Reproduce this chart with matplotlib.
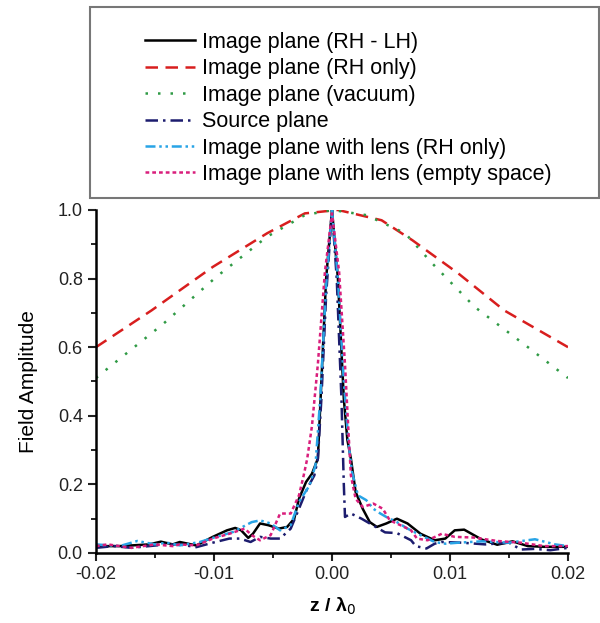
import matplotlib.pyplot as plt
from matplotlib.patches import Rectangle
from matplotlib.ticker import MultipleLocator

plt.rcParams['font.family'] = ['Liberation Sans', 'DejaVu Sans']

# broad curves (no lens)
z_rh = [-0.02, -0.0153, -0.0101, -0.0055, -0.0023, 0.0005, 0.0042, 0.0068, 0.0107, 0.0146, 0.02]
a_rh = [0.60, 0.707, 0.834, 0.932, 0.99, 1.0, 0.97, 0.912, 0.815, 0.707, 0.60]

z_vac = [-0.02, -0.0189, -0.0143, -0.0098, -0.0055, -0.0023, 0.0, 0.0029, 0.0062, 0.0085, 0.0121, 0.0166, 0.02]
a_vac = [0.51, 0.541, 0.668, 0.805, 0.922, 0.985, 1.0, 0.985, 0.932, 0.844, 0.717, 0.60, 0.51]

# narrow curves
z_rhlh = [-0.02, -0.018, -0.0155, -0.0145, -0.0135, -0.0129, -0.0115, -0.0101, -0.0089, -0.0082,
          -0.0077, -0.0071, -0.0067, -0.0061, -0.0054, -0.0045, -0.0038, -0.0032, -0.0028, -0.0022,
          -0.0017, -0.0012, -0.0009, -0.0005, 0.0, 0.0005, 0.001, 0.0013, 0.0016, 0.002, 0.0026,
          0.0032, 0.0038, 0.0046, 0.0055, 0.0064, 0.0075, 0.0087, 0.0096, 0.0104, 0.0112, 0.0127,
          0.014, 0.0153, 0.0166, 0.018, 0.02]
a_rhlh = [0.02, 0.02, 0.025, 0.033, 0.025, 0.032, 0.022, 0.047, 0.066, 0.073,
          0.066, 0.044, 0.056, 0.086, 0.081, 0.071, 0.076, 0.10, 0.158, 0.207,
          0.231, 0.275, 0.5, 0.8, 1.0, 0.8, 0.45, 0.33, 0.275, 0.178, 0.129,
          0.09, 0.076, 0.086, 0.10, 0.086, 0.056, 0.037, 0.042, 0.066, 0.068, 0.039,
          0.024, 0.034, 0.02, 0.018, 0.018]

z_src = [-0.02, -0.0185, -0.017, -0.0155, -0.014, -0.0129, -0.0115, -0.0101, -0.0087, -0.0078,
         -0.0069, -0.0061, -0.0052, -0.0044, -0.0035, -0.0028, -0.0021, -0.0015, -0.0012, -0.0009,
         -0.0005, 0.0, 0.0004, 0.0008, 0.001, 0.0011, 0.0016, 0.0025, 0.0035, 0.0045, 0.0055,
         0.0067, 0.0071, 0.008, 0.0087, 0.0093, 0.011, 0.013, 0.015, 0.016, 0.0172, 0.0185, 0.02]
a_src = [0.015, 0.02, 0.015, 0.02, 0.025, 0.025, 0.017, 0.03, 0.042, 0.042,
         0.032, 0.047, 0.042, 0.042, 0.071, 0.129, 0.188, 0.226, 0.275, 0.45,
         0.75, 1.0, 0.8, 0.45, 0.2, 0.105, 0.115, 0.10, 0.08, 0.06, 0.058,
         0.037, 0.02, 0.013, 0.027, 0.032, 0.03, 0.025, 0.03, 0.01, 0.012, 0.008, 0.015]

z_lens_rh = [-0.02, -0.018, -0.0165, -0.015, -0.014, -0.0129, -0.0112, -0.0098, -0.0084, -0.0068,
             -0.0061, -0.0052, -0.0044, -0.0035, -0.0028, -0.0019, -0.0014, -0.001, -0.0005, 0.0,
             0.0005, 0.001, 0.0014, 0.0017, 0.0022, 0.0029, 0.0035, 0.0041, 0.0046, 0.0055, 0.0064,
             0.0075, 0.0087, 0.0096, 0.0107, 0.0127, 0.015, 0.0172, 0.0189, 0.02]
a_lens_rh = [0.025, 0.02, 0.035, 0.025, 0.03, 0.022, 0.032, 0.047, 0.061, 0.09,
             0.095, 0.086, 0.066, 0.081, 0.149, 0.197, 0.256, 0.45, 0.78, 1.0,
             0.8, 0.5, 0.32, 0.236, 0.168, 0.154, 0.129, 0.115, 0.105, 0.09, 0.071,
             0.052, 0.032, 0.027, 0.03, 0.034, 0.03, 0.04, 0.025, 0.02]

z_lens_es = [-0.02, -0.019, -0.017, -0.015, -0.0135, -0.0129, -0.0115, -0.0101, -0.0087, -0.0074,
             -0.0068, -0.0061, -0.0052, -0.0044, -0.0035, -0.0028, -0.0024, -0.0021, -0.0017, -0.0012,
             -0.0006, 0.0, 0.0006, 0.0011, 0.0014, 0.0016, 0.002, 0.0026, 0.0035, 0.0043, 0.0049,
             0.0058, 0.0067, 0.0072, 0.0081, 0.0093, 0.0104, 0.012, 0.014, 0.016, 0.018, 0.02]
a_lens_es = [0.02, 0.025, 0.015, 0.025, 0.02, 0.025, 0.022, 0.042, 0.056, 0.071,
             0.052, 0.037, 0.052, 0.115, 0.115, 0.168, 0.226, 0.275, 0.37, 0.55,
             0.82, 0.99, 0.82, 0.55, 0.35, 0.226, 0.158, 0.134, 0.144, 0.129, 0.095,
             0.081, 0.066, 0.042, 0.037, 0.056, 0.047, 0.045, 0.035, 0.03, 0.02, 0.02]

labels = ['Image plane (RH - LH)', 'Image plane (RH only)', 'Image plane (vacuum)',
          'Source plane', 'Image plane with lens (RH only)', 'Image plane with lens (empty space)']

fig = plt.figure(figsize=(6.0, 6.23), dpi=100)
ax = fig.add_axes([0.16, 0.1124, 0.7867, 0.5506])

lw = 1.8
h1, = ax.plot(z_rhlh, a_rhlh, color='black', lw=lw, ls='-')
h2, = ax.plot(z_rh, a_rh, color='#d81e1e', lw=lw, ls=(0, (5, 3)))
h3, = ax.plot(z_vac, a_vac, color='#2f9a45', lw=lw, ls=(0, (1, 4)))
h4, = ax.plot(z_src, a_src, color='#1c1c6e', lw=lw, ls=(0, (5, 2, 1, 2)))
h5, = ax.plot(z_lens_rh, a_lens_rh, color='#28a4e6', lw=lw, ls=(0, (4, 1.5, 1, 1.5, 1, 1.5)))
h6, = ax.plot(z_lens_es, a_lens_es, color='#d91e7c', lw=lw, ls=(0, (1.5, 1.2)))

ax.set_xlim(-0.02, 0.02)
ax.set_ylim(0.0, 1.0)
ax.xaxis.set_major_locator(MultipleLocator(0.01))
ax.xaxis.set_minor_locator(MultipleLocator(0.005))
ax.yaxis.set_major_locator(MultipleLocator(0.2))
ax.yaxis.set_minor_locator(MultipleLocator(0.1))
ax.xaxis.set_major_formatter(plt.FuncFormatter(lambda v, p: f'{v:.2f}'))
ax.yaxis.set_major_formatter(plt.FuncFormatter(lambda v, p: f'{v:.1f}'))
ax.tick_params(which='major', direction='out', length=6, width=1.5, labelsize=13, colors='#222222')
ax.tick_params(which='minor', direction='out', length=3.5, width=1.2)
for s in ['top', 'right']:
    ax.spines[s].set_visible(False)
for s in ['left', 'bottom']:
    ax.spines[s].set_linewidth(1.8)
ax.set_xlabel('z / λ$_0$', fontsize=14, fontweight='bold', labelpad=9)
ax.set_ylabel('Field Amplitude', fontsize=15, labelpad=14)

# legend box
fig.patches.append(Rectangle((90 / 600, 1 - 198 / 623), 509 / 600, 191 / 623,
                             transform=fig.transFigure, fill=False,
                             edgecolor='#777777', linewidth=1.5))
fig.legend([h1, h2, h3, h4, h5, h6], labels, loc='upper left',
           bbox_to_anchor=(145 / 600, 1 - 32 / 623), frameon=False, fontsize=15.5,
           handlelength=2.3, handletextpad=0.35, labelspacing=0.25, borderaxespad=0,
           borderpad=0)

fig.savefig('out.png', dpi=100)
